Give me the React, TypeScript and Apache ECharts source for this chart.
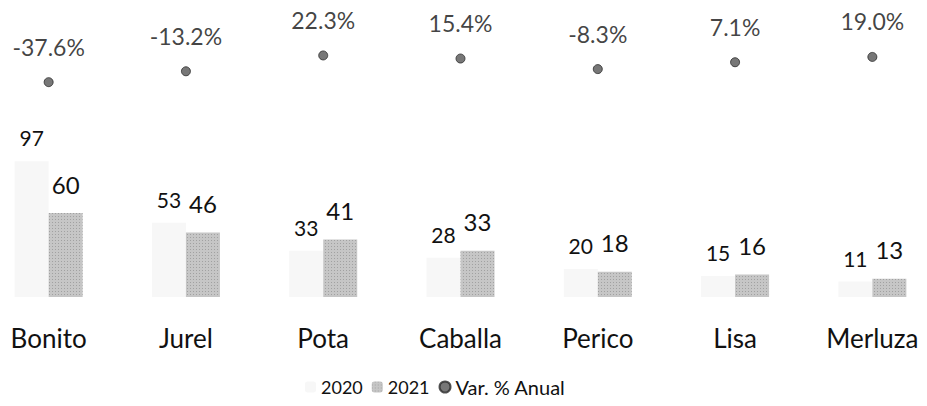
import React, { useEffect, useRef } from "react";
import * as echarts from "echarts";

const categories = ["Bonito", "Jurel", "Pota", "Caballa", "Perico", "Lisa", "Merluza"];
const values2020 = [97, 53, 33, 28, 20, 15, 11];
const values2021 = [60, 46, 41, 33, 18, 16, 13];
const varAnual = [-37.6, -13.2, 22.3, 15.4, -8.3, 7.1, 19.0];
const legendNames = ["2020", "2021", "Var. % Anual"];

const FONT = "Lato, 'Open Sans', sans-serif";
const SHIFT = 20;

export default function App() {
  const ref = useRef<HTMLDivElement>(null);
  useEffect(() => {
    if (!ref.current) return;
    const chart = echarts.init(ref.current, null, { renderer: "svg" });
    chart.setOption({
      animation: false,
      backgroundColor: "#ffffff",
      textStyle: { fontFamily: FONT, color: "#111" },
      grid: { left: 0, right: 0, top: 10, bottom: 109, containLabel: false },
      legend: {
        data: legendNames,
        left: 300 + SHIFT,
        top: 372,
        itemWidth: 11,
        itemHeight: 11,
        itemGap: 9,
        formatter: (name: string) => (name === legendNames[2] ? "{w|" + name + "}" : name),
        textStyle: {
          fontFamily: FONT,
          fontSize: 18,
          color: "#111",
          rich: { w: { fontFamily: FONT, fontSize: 20, color: "#111" } },
        },
      },
      xAxis: {
        type: "category",
        data: categories,
        axisLine: { show: false },
        axisTick: { show: false },
        axisLabel: { fontFamily: FONT, fontSize: 26, color: "#111", margin: 28 },
      },
      yAxis: [
        { type: "value", min: 0, max: 205, show: false, splitLine: { show: false } },
        { type: "value", min: -519.7, max: 124.3, show: false, splitLine: { show: false } },
      ],
      series: [
        {
          name: legendNames[0],
          type: "bar",
          data: values2020,
          barWidth: 34,
          barGap: "0%",
          itemStyle: { color: "#f7f7f7" },
          label: {
            show: true,
            position: "top",
            distance: 13,
            fontFamily: FONT,
            fontSize: 21,
            color: "#111",
          },
        },
        {
          name: legendNames[1],
          type: "bar",
          data: values2021,
          barWidth: 34,
          barGap: "0%",
          itemStyle: {
            color: "#c6c6c6",
            decal: {
              symbol: "rect",
              symbolSize: 1,
              color: "rgba(90,90,90,0.35)",
              dashArrayX: [1, 2],
              dashArrayY: [1, 2],
            },
          },
          label: {
            show: true,
            position: "top",
            distance: 17,
            fontFamily: FONT,
            fontSize: 24,
            color: "#111",
          },
        },
        {
          name: legendNames[2],
          type: "scatter",
          yAxisIndex: 1,
          data: varAnual,
          symbol: "circle",
          symbolSize: 9,
          itemStyle: { color: "#555", borderColor: "#2a2a2a", borderWidth: 1 },
          label: {
            show: true,
            position: "top",
            distance: 19,
            fontFamily: FONT,
            fontSize: 23,
            color: "#111",
            formatter: (p: any) => p.value.toFixed(1) + "%",
          },
        },
      ],
    });
    return () => chart.dispose();
  }, []);
  return (
    <div
      ref={ref}
      style={{ position: "fixed", left: -SHIFT, top: 0, width: 927 + SHIFT + 14, height: 406 }}
    />
  );
}
